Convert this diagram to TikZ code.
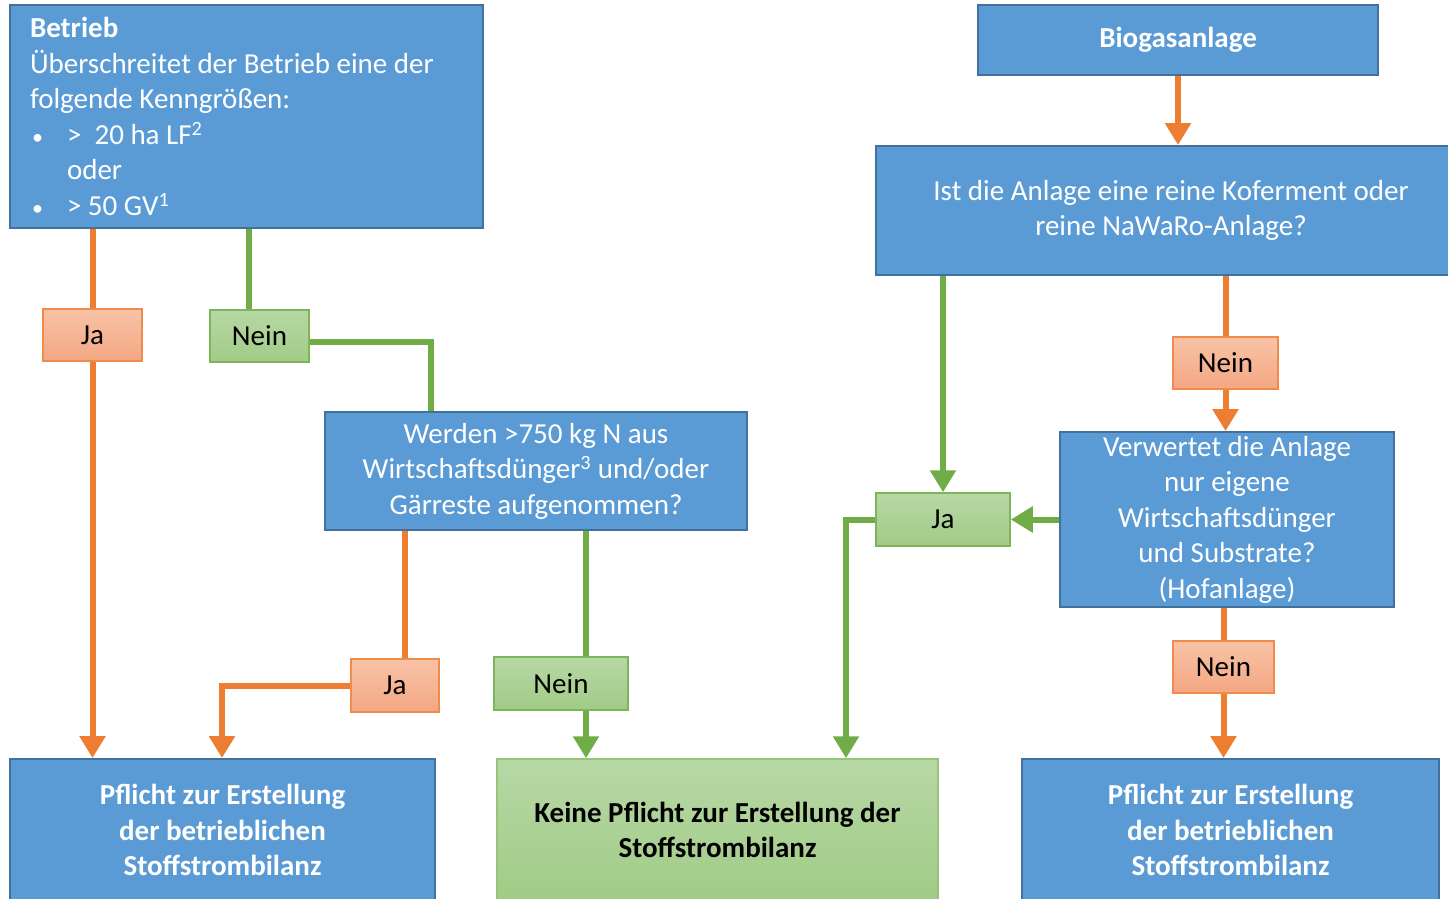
\documentclass[tikz,border=0pt]{standalone}
\usepackage{fontspec}
\setmainfont{Carlito}
\usetikzlibrary{arrows.meta}
\definecolor{bfill}{HTML}{5B9BD5}
\definecolor{bdraw}{HTML}{41719C}
\definecolor{oline}{HTML}{ED7D31}
\definecolor{gline}{HTML}{70AD47}
\definecolor{otop}{HTML}{F8C3A7}
\definecolor{obot}{HTML}{F4A783}
\definecolor{odraw}{HTML}{F08B4C}
\definecolor{gtop}{HTML}{B7D8A5}
\definecolor{gbot}{HTML}{A1CB86}
\definecolor{gdraw}{HTML}{7DB55A}
\newcommand{\smbullet}{\makebox[37pt][l]{\hspace{2pt}{\fontsize{22}{22}\selectfont\textbullet}}}
\begin{document}
\begin{tikzpicture}[x=1pt,y=-1pt,
  bluebox/.style={rectangle,draw=bdraw,line width=2pt,fill=bfill,text=white,inner sep=0pt,align=center,
    font=\fontsize{29}{35.5}\selectfont},
  obox/.style={rectangle,draw=odraw,line width=1.5pt,top color=otop,bottom color=obot,inner sep=0pt,
    font=\fontsize{29}{35}\selectfont},
  gbox/.style={rectangle,draw=gdraw,line width=1.5pt,top color=gtop,bottom color=gbot,inner sep=0pt,
    font=\fontsize{29}{35}\selectfont},
  oconn/.style={draw=oline,line width=6pt},
  gconn/.style={draw=gline,line width=6pt},
  tip/.style={-{Triangle[width=25pt,length=22pt]}},
]
\clip (0,0) rectangle (1448,898);
\fill[white] (0,0) rectangle (1448,898);

% coordinates for connector x positions
\coordinate (xga) at (249,0);
\coordinate (xgb) at (431,0);
\coordinate (xoa) at (405,0);
\coordinate (xob) at (222,0);
\coordinate (xgc) at (586,0);
\coordinate (xgd) at (846,0);
\coordinate (yna) at (0,342);

% big boxes
\node[bluebox,minimum width=473,minimum height=223,text width=433,align=flush left] (betrieb) at (246.5,116.5)
  {\textbf{Betrieb}\\
   Überschreitet der Betrieb eine der\\
   folgende Kenngrößen:\\
   \smbullet>\ \ 20 ha LF\textsuperscript{2}\\
   \hspace*{37pt}oder\\
   \smbullet> 50 GV\textsuperscript{1}};
\node[bluebox,minimum width=400,minimum height=70] (bio) at (1178,40) {\textbf{Biogasanlage}};
\node[bluebox,minimum width=590,minimum height=129] (ist) at (1171,210.5)
  {Ist die Anlage eine reine Koferment oder\\reine NaWaRo-Anlage?};
\node[bluebox,minimum width=422,minimum height=118] (werden) at (536,471)
  {Werden >750 kg N aus\\Wirtschaftsdünger\textsuperscript{3} und/oder\\Gärreste aufgenommen?};
\node[bluebox,minimum width=334,minimum height=175] (verw) at (1227,519.5)
  {Verwertet die Anlage\\nur eigene\\Wirtschaftsdünger\\und Substrate?\\(Hofanlage)};
\node[bluebox,minimum width=425,minimum height=142] (pflL) at (222.5,830)
  {\textbf{Pflicht zur Erstellung}\\\textbf{der betrieblichen}\\\textbf{Stoffstrombilanz}};
\node[bluebox,minimum width=417,minimum height=142] (pflR) at (1230.5,830)
  {\textbf{Pflicht zur Erstellung}\\\textbf{der betrieblichen}\\\textbf{Stoffstrombilanz}};
\node[rectangle,draw=gdraw!80!white,line width=1.5pt,top color=gtop,bottom color=gbot,inner sep=0pt,
  minimum width=441,minimum height=142,align=center,font=\fontsize{29}{35.5}\selectfont] (keine) at (717.5,830)
  {\textbf{Keine Pflicht zur Erstellung der}\\\textbf{Stoffstrombilanz}};

% small boxes
\node[obox,minimum width=99,minimum height=52] (jaL) at (92.5,335) {Ja};
\node[gbox,minimum width=99,minimum height=52] (neinL) at (259.5,336) {Nein};
\node[obox,minimum width=88,minimum height=53] (jaM) at (395,685.5) {Ja};
\node[gbox,minimum width=134,minimum height=53] (neinM) at (561,683.5) {Nein};
\node[gbox,minimum width=134,minimum height=53] (jaR) at (943,519.5) {Ja};
\node[obox,minimum width=105,minimum height=52] (neinRa) at (1225.5,363) {Nein};
\node[obox,minimum width=101,minimum height=52] (neinRb) at (1223.5,667) {Nein};

% connectors
\draw[oconn] (jaL |- betrieb.south) -- (jaL.north);
\draw[oconn,tip] (jaL.south) -- (pflL.north -| jaL);
\draw[gconn] (xga |- betrieb.south) -- (xga |- neinL.north);
\draw[gconn] (neinL.east |- yna) -| (werden.north -| xgb);
\draw[oconn] (xoa |- werden.south) -- (xoa |- jaM.north);
\draw[oconn,tip] (jaM.west) -| (pflL.north -| xob);
\draw[gconn] (xgc |- werden.south) -- (xgc |- neinM.north);
\draw[gconn,tip] (xgc |- neinM.south) -- (keine.north -| xgc);
\draw[oconn,tip] (bio.south) -- (ist.north -| bio);
\draw[gconn,tip] (jaR |- ist.south) -- (jaR.north);
\draw[oconn] (neinRa |- ist.south) -- (neinRa.north);
\draw[oconn,tip] (neinRa.south) -- (verw.north -| neinRa);
\draw[gconn,tip] (verw.west |- jaR) -- (jaR.east);
\draw[gconn,tip] (jaR.west) -| (keine.north -| xgd);
\draw[oconn] (neinRb |- verw.south) -- (neinRb.north);
\draw[oconn,tip] (neinRb.south) -- (pflR.north -| neinRb);
\end{tikzpicture}
\end{document}
